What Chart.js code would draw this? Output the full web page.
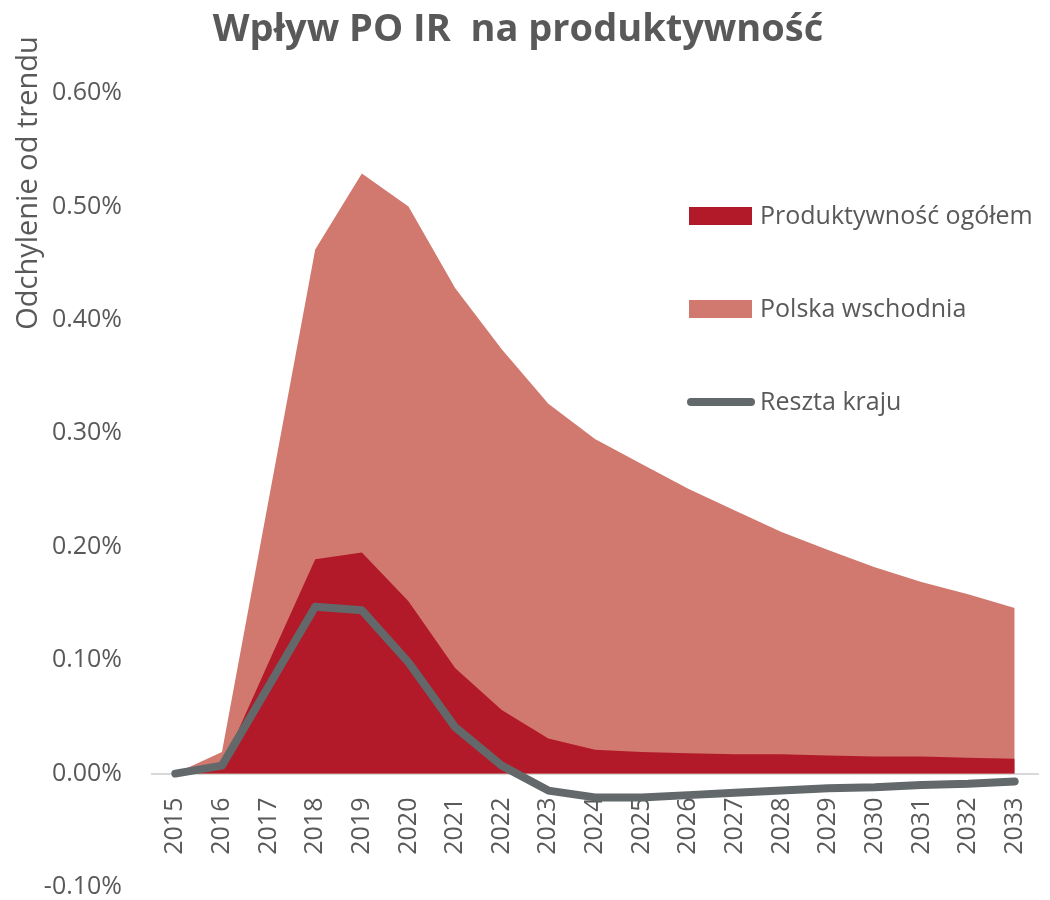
<!DOCTYPE html>
<html>
<head>
<meta charset="utf-8">
<script src="https://cdn.jsdelivr.net/npm/chart.js@4.4.0/dist/chart.umd.min.js"></script>
<style>
html,body{margin:0;padding:0;background:#fff;}
#wrap{width:1050px;height:900px;position:relative;}
</style>
</head>
<body>
<div id="wrap"><canvas id="c" width="1050" height="900"></canvas></div>
<script>
const chartTitle = 'Wpływ PO IR  na produktywność';
const yAxisTitle = 'Odchylenie od trendu';
const years = ['2015','2016','2017','2018','2019','2020','2021','2022','2023','2024','2025','2026','2027','2028','2029','2030','2031','2032','2033'];
const polskaWschodnia = [0.000,0.019,0.241,0.462,0.529,0.500,0.428,0.374,0.326,0.295,0.273,0.251,0.232,0.213,0.197,0.182,0.169,0.158,0.146];
const produktywnoscOgolem = [0.000,0.006,0.098,0.189,0.195,0.152,0.093,0.056,0.031,0.021,0.019,0.018,0.017,0.017,0.016,0.015,0.015,0.014,0.013];
const resztaKraju = [0.000,0.007,0.077,0.147,0.144,0.098,0.041,0.007,-0.015,-0.021,-0.021,-0.019,-0.017,-0.015,-0.013,-0.012,-0.010,-0.009,-0.007];
const yTickValues = [0.6,0.5,0.4,0.3,0.2,0.1,0.0,-0.1];

const TXT = '#595959';
const FONT = "'Open Sans', 'Liberation Sans', sans-serif";

const decorPlugin = {
  id: 'decor',
  afterDraw(chart) {
    const ctx = chart.ctx;
    ctx.save();
    ctx.fillStyle = TXT;
    ctx.font = "bold 38px " + FONT;
    ctx.textAlign = 'center';
    ctx.textBaseline = 'middle';
    ctx.fillText(chartTitle, 518, 30);
    ctx.save();
    ctx.translate(29, 183);
    ctx.rotate(-Math.PI / 2);
    ctx.font = "29px " + FONT;
    ctx.fillText(yAxisTitle, 0, 0);
    ctx.restore();
    const items = chart.data.datasets;
    const ys = [216, 309, 402];
    ctx.font = "25px " + FONT;
    ctx.textAlign = 'left';
    items.forEach((ds, i) => {
      const y = ys[i];
      if (ds.fill) {
        ctx.fillStyle = ds.backgroundColor;
        ctx.fillRect(689, y - 9, 63, 18);
      } else {
        ctx.strokeStyle = ds.borderColor;
        ctx.lineWidth = 8;
        ctx.lineCap = 'round';
        ctx.beginPath();
        ctx.moveTo(691, y);
        ctx.lineTo(751, y);
        ctx.stroke();
      }
      ctx.fillStyle = TXT;
      ctx.fillText(ds.label, 760, y + 1);
    });
    ctx.restore();
  }
};

function zeroPad(scale) {
  scale.paddingLeft = 0; scale.paddingRight = 0;
  scale.paddingTop = 0; scale.paddingBottom = 0;
}

new Chart(document.getElementById('c'), {
  type: 'line',
  data: {
    labels: years,
    datasets: [
      {
        label: 'Produktywność ogółem',
        data: produktywnoscOgolem,
        backgroundColor: '#B31A29',
        borderColor: '#B31A29',
        borderWidth: 0,
        pointRadius: 0,
        fill: 'origin',
        order: 1
      },
      {
        label: 'Polska wschodnia',
        data: polskaWschodnia,
        backgroundColor: '#D1796E',
        borderColor: '#D1796E',
        borderWidth: 0,
        pointRadius: 0,
        fill: 'origin',
        order: 2
      },
      {
        label: 'Reszta kraju',
        data: resztaKraju,
        borderColor: '#63686A',
        backgroundColor: '#63686A',
        borderWidth: 8,
        borderCapStyle: 'round',
        borderJoinStyle: 'round',
        pointRadius: 0,
        fill: false,
        order: 0
      }
    ]
  },
  options: {
    responsive: false,
    animation: false,
    layout: { padding: { top: 93, bottom: 13, left: 0, right: 12 } },
    plugins: {
      legend: { display: false },
      title: { display: false },
      tooltip: { enabled: false }
    },
    scales: {
      x: {
        position: { y: 0 },
        offset: true,
        grid: { display: false, drawTicks: false },
        border: { display: true, color: '#D9D9D9', width: 2 },
        afterFit(scale) { zeroPad(scale); scale.height = 0; },
        ticks: {
          color: TXT,
          font: { family: FONT, size: 25 },
          minRotation: 90,
          maxRotation: 90,
          autoSkip: false,
          padding: 24
        }
      },
      y: {
        min: -0.1,
        max: 0.6,
        grid: { display: false, drawTicks: false },
        border: { display: false },
        afterFit(scale) { scale.width = 152; zeroPad(scale); },
        afterBuildTicks(scale) { scale.ticks = yTickValues.map(v => ({ value: v })); },
        ticks: {
          color: TXT,
          font: { family: FONT, size: 25 },
          padding: 30,
          callback: v => v.toFixed(2) + '%'
        }
      }
    }
  },
  plugins: [decorPlugin]
});
</script>
</body>
</html>
